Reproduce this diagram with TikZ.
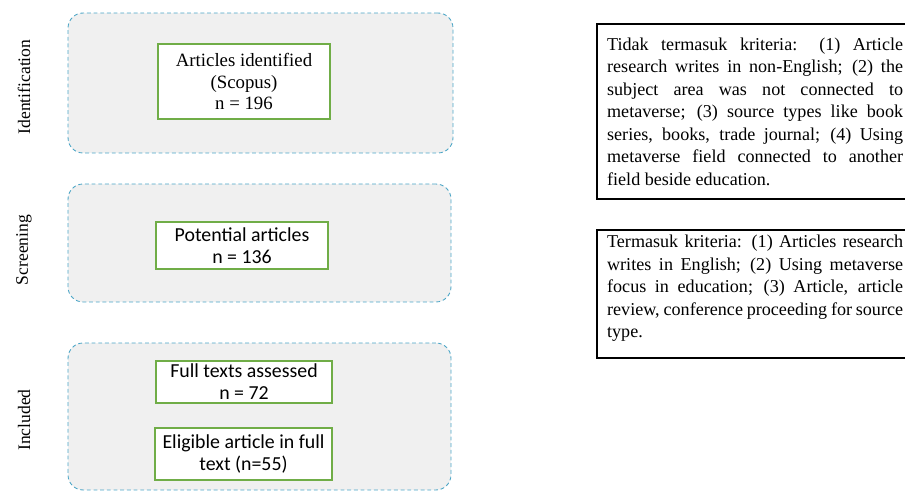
\documentclass[tikz,border=0pt]{standalone}
\usepackage{fontspec}
\setmainfont{Liberation Serif}
\newfontfamily\calibrifont{Carlito}
\usepackage{tikz}
\usepackage[dvipsnames]{xcolor}
\usetikzlibrary{positioning}

\definecolor{stageblue}{RGB}{75,165,198}
\definecolor{stagegray}{RGB}{240,240,240}
\definecolor{boxgreen}{RGB}{112,173,71}
\hyphenpenalty=10000
\exhyphenpenalty=10000
\emergencystretch=2em

\begin{document}
\begin{tikzpicture}[
  x=0.02cm, y=-0.02cm,
  stagenode/.style={draw=stageblue, dashed, dash pattern=on 2.2pt off 1.6pt, fill=stagegray,
    rounded corners=0.3cm, line width=0.5pt},
  countnode/.style={draw=boxgreen, fill=white, line width=1.2pt, align=center, inner sep=0pt},
  ]
  \tikzset{%
    critnode/.style={
      draw, line width=1.3pt,
      text width=5.92cm,
      align=justify,
      inner xsep=0.2cm,
      inner ysep=0.1cm,
      anchor=north west,
      font=\fontsize{10.3pt}{12.8pt}\selectfont,
    },
    phasenode/.style={
      rotate=90,
      font=\fontsize{10pt}{12pt}\selectfont,
    },
  }
  \clip (0,0) rectangle (905,492);
  \useasboundingbox (0,0) rectangle (905,492);
  %Stages
  \node[stagenode, minimum width=7.7cm, minimum height=2.8cm](ident) at (260.5,83){};
  \node[stagenode, minimum width=7.66cm, minimum height=2.36cm](screen) at (259.5,243){};
  \node[stagenode, minimum width=7.66cm, minimum height=2.94cm](incl) at (259.5,416.5){};
  %Phase labels
  \node[phasenode](identlbl) at (24,87){Identification};
  \node[phasenode](screenlbl) at (24,250){Screening};
  \node[phasenode](incllbl) at (24,420){Included};
  %Counts
  \node[countnode, minimum width=3.44cm, minimum height=1.5cm,
    font=\fontsize{10.7pt}{12pt}\selectfont](found) at (244,81.5){Articles identified\\(Scopus)\\n = 196};
  \node[countnode, minimum width=3.44cm, minimum height=0.94cm,
    font=\calibrifont\fontsize{11.3pt}{12.5pt}\selectfont](potential) at (242,245.5){Potential articles\\n = 136};
  \node[countnode, minimum width=3.52cm, minimum height=0.84cm,
    font=\calibrifont\fontsize{11.3pt}{12.5pt}\selectfont](fulltext) at (244,382){Full texts assessed\\n = 72};
  \node[countnode, minimum width=3.54cm, minimum height=1.04cm,
    font=\calibrifont\fontsize{11.3pt}{12.5pt}\selectfont](eligible) at (243.5,454){Eligible article in full\\text (n=55)};
  %Criteria
  \node[critnode, minimum height=3.5cm](exclude) at (596,23){Tidak termasuk kriteria: (1) Article research writes in non-English; (2) the\linebreak{} subject area was not connected to metaverse; (3) source types like book series, books, trade journal; (4) Using metaverse field connected to another field beside education.};
  \node[critnode, text depth=2.1cm](include) at (596,229){Termasuk kriteria: (1) Articles research writes in English; (2) Using metaverse focus in education; (3) Article, article review, conference proceeding for source type.};
\end{tikzpicture}
\end{document}
